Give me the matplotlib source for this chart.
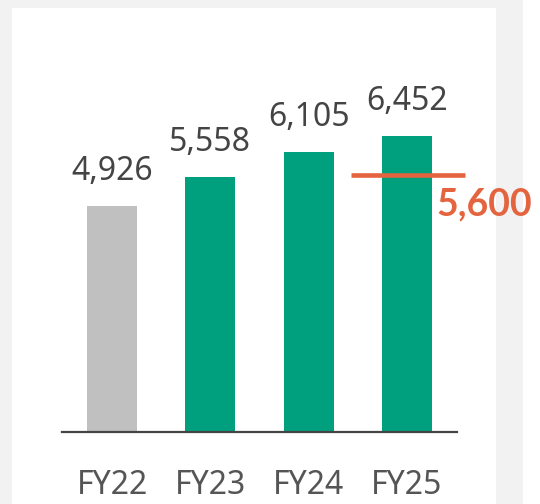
import matplotlib
matplotlib.use("Agg")
import matplotlib.pyplot as plt
from matplotlib.patches import Rectangle

categories = ["FY22", "FY23", "FY24", "FY25"]
values = [4926, 5558, 6105, 6452]
bar_colors = ["#c0c0c0", "#00a07f", "#00a07f", "#00a07f"]
target = 5600

plt.rcParams['font.family'] = ['Noto Sans', 'DejaVu Sans']

W, H = 540, 504
fig = plt.figure(figsize=(W / 100, H / 100), dpi=100)
fig.patch.set_facecolor("#f2f2f2")
# white panel
fig.patches.append(Rectangle((12 / W, 0), (496 - 12) / W, (H - 8) / H,
                             transform=fig.transFigure, facecolor="white",
                             edgecolor="none", zorder=-10))
fig.patches.append(Rectangle((523 / W, 0), (W - 523) / W, 1,
                             transform=fig.transFigure, facecolor="white",
                             edgecolor="none", zorder=-10))

ax = fig.add_axes([62 / W, (H - 432) / H, (457 - 62) / W, (432 - 8) / H])
ax.set_facecolor("none")
x = list(range(len(categories)))
ax.bar(x, values, width=0.51, color=bar_colors, zorder=2)
ax.set_xlim(-0.51, 3.51)
ax.set_ylim(0, 9241)

for s in ["top", "right", "left"]:
    ax.spines[s].set_visible(False)
ax.spines["bottom"].set_color("#444444")
ax.spines["bottom"].set_linewidth(1.6)
ax.set_yticks([])
ax.set_xticks(x)
ax.set_xticklabels(categories, fontsize=23, color="#555555")
ax.tick_params(axis="x", length=0, pad=27)

for xi, v in zip(x, values):
    ax.annotate(f"{v:,}", xy=(xi, v), xytext=(0, 26), textcoords="offset pixels",
                ha="center", va="baseline", fontsize=23, color="#444444")

# target line
ax.hlines(target, 3 - 0.57, 3 + 0.59, colors="#e4643f", linewidth=3.3,
          clip_on=False, zorder=3)
ax.annotate(f"{target:,}", xy=(3, target), xytext=(30, -40), textcoords="offset pixels",
            ha="left", va="baseline", fontsize=27, fontweight="bold",
            family=["Lato", "DejaVu Sans"],
            color="#e4643f", annotation_clip=False)

fig.savefig("out.png", dpi=100, facecolor=fig.get_facecolor())
